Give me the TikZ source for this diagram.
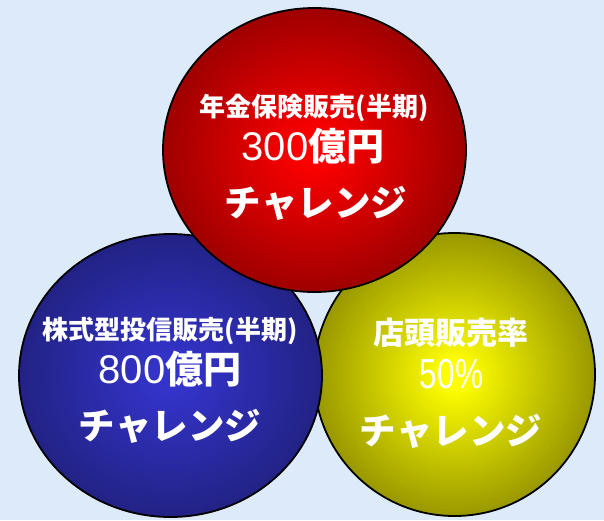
\documentclass[tikz,border=0pt]{standalone}
\usepackage{fontspec}
\usepackage{graphicx}
\usetikzlibrary{shapes.geometric}
\newfontfamily\cjk{Noto Sans CJK JP}
\newfontfamily\lat{Liberation Sans}
\definecolor{bgblue}{RGB}{220,234,249}
\definecolor{rin}{RGB}{255,0,0}
\definecolor{rout}{RGB}{125,0,0}
\definecolor{bin}{RGB}{52,52,204}
\definecolor{bout}{RGB}{28,28,108}
\definecolor{yin}{RGB}{255,255,0}
\definecolor{yout}{RGB}{125,125,0}
\pgfdeclareradialshading{redball}{\pgfpoint{0bp}{0bp}}{color(0bp)=(rin); color(2bp)=(rin); color(33bp)=(rout); color(50bp)=(rout)}
\pgfdeclareradialshading{blueball}{\pgfpoint{0bp}{0bp}}{color(0bp)=(bin); color(2bp)=(bin); color(33bp)=(bout); color(50bp)=(bout)}
\pgfdeclareradialshading{yellowball}{\pgfpoint{0bp}{0bp}}{color(0bp)=(yin); color(2bp)=(yin); color(31bp)=(yout); color(50bp)=(yout)}
\begin{document}
\begin{tikzpicture}[x=1pt,y=-1pt,
  ball/.style={ellipse, draw=black, line width=1.8pt, inner sep=0pt},
  txt/.style={text=white, inner sep=0pt, anchor=base},
  small/.style={txt, font=\cjk\bfseries\fontsize{26}{26}\selectfont},
  big/.style={txt, font=\cjk\bfseries\fontsize{38}{38}\selectfont},
  kata/.style={txt, font=\cjk\bfseries\fontsize{36.5}{36.5}\selectfont},
  mid/.style={txt, font=\cjk\bfseries\fontsize{31}{31}\selectfont}]
\useasboundingbox (0,0) rectangle (604,520);
\fill[bgblue] (0,0) rectangle (604,520);
\node[ball, shading=yellowball, minimum width=281pt, minimum height=283pt] (yb) at (454.5,374.5) {};
\node[ball, shading=blueball, minimum width=303pt, minimum height=283pt] (bb) at (170.5,375.5) {};
\node[ball, shading=redball, minimum width=303pt, minimum height=284pt] (rb) at (314.5,150) {};
% red texts
\node[small] (r1) at (314,116) {年金保険販売(半期)};
\node[big] (r2) at (313,160) {{\lat\mdseries\fontsize{40}{40}\selectfont 300}億円};
\node[kata] (r3) at (316,216) {チャレンジ};
% blue texts
\node[small] (b1) at (170,339) {株式型投信販売(半期)};
\node[big] (b2) at (170,383) {{\lat\mdseries\fontsize{40}{40}\selectfont 800}億円};
\node[kata] (b3) at (170,439) {チャレンジ};
% yellow texts
\node[mid] (y1) at (451,344) {店頭販売率};
\node[txt, font=\lat\fontsize{42}{42}\selectfont] (y2) at (451.5,388) {\scalebox{0.75}[1]{50\%}};
\node[kata] (y3) at (451,444) {チャレンジ};
\end{tikzpicture}
\end{document}
